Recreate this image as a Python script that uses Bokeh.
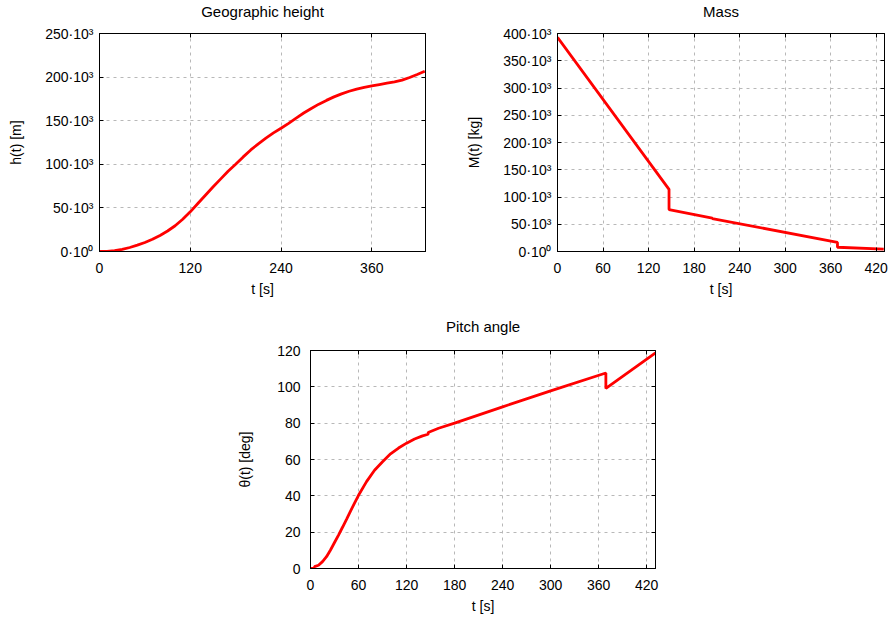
from bokeh.plotting import figure
from bokeh.models import Range1d, FixedTicker, LinearAxis, Spacer, CustomJSTickFormatter
from bokeh.layouts import column, row
from bokeh.embed import file_html
from bokeh.resources import INLINE

# ---------------- data ----------------
# Geographic height
t_height = [0, 10, 20, 30, 40, 50, 60, 70, 80, 90, 100, 110, 120, 130, 140, 150,
            160, 170, 180, 190, 200, 210, 220, 230, 240, 250, 260, 270, 280, 290,
            300, 310, 320, 330, 340, 350, 360, 370, 380, 390, 400, 410, 420, 430]
h_values = [0, 250, 900, 2400, 4600, 7300, 10300, 14000, 18400, 23500, 29500, 37000,
            45500, 55000, 64500, 74000, 83000, 92000, 100000, 108500, 116500, 123500,
            130000, 136000, 141400, 147000, 153000, 158800, 164000, 169000, 173300,
            177300, 180800, 183800, 186300, 188300, 190000, 191500, 193000, 194500,
            196500, 199500, 203000, 206700]

# Mass
t_mass = [0, 147, 147, 204, 204, 369, 369, 430]
m_values = [393000, 114000, 77000, 61300, 60500, 16600, 7800, 4500]

# Pitch angle
t_pitch = [0, 5, 5, 10, 15, 20, 25, 30, 35, 40, 45, 50, 55, 60, 70, 80, 90, 100,
           110, 120, 130, 140, 147, 147, 160, 180, 240, 300, 369, 369, 431]
pitch_values = [0, 0, 1.0, 1.8, 3.8, 6.5, 10.2, 14.3, 18.4, 22.7, 27.1, 31.6, 36.0,
                40.3, 47.8, 54.1, 58.8, 63.1, 66.3, 69.0, 71.3, 73.0, 73.9, 74.9,
                77.2, 80.0, 89.0, 97.8, 107.6, 99.1, 118.7]

# ticks
x_ticks_height = [0, 120, 240, 360]
x_ticks_60 = [0, 60, 120, 180, 240, 300, 360, 420]
y_ticks_height = [0, 50000, 100000, 150000, 200000, 250000]
y_labels_height = ["0·10⁰", "50·10³", "100·10³", "150·10³", "200·10³", "250·10³"]
y_ticks_mass = [0, 50000, 100000, 150000, 200000, 250000, 300000, 350000, 400000]
y_labels_mass = ["0·10⁰", "50·10³", "100·10³", "150·10³", "200·10³", "250·10³",
                 "300·10³", "350·10³", "400·10³"]
y_ticks_pitch = [0, 20, 40, 60, 80, 100, 120]

FONT = "Liberation Sans"
FS = "14px"
RED = "#ff0000"
GRID = "#b8b8b8"


def style_axis(ax, ticks, standoff):
    ax.ticker = FixedTicker(ticks=ticks)
    ax.major_tick_in = 4
    ax.major_tick_out = 0
    ax.minor_tick_line_color = None
    ax.axis_line_color = "black"
    ax.major_tick_line_color = "black"
    ax.major_label_text_font = FONT
    ax.major_label_text_font_size = FS
    ax.major_label_text_color = "black"
    ax.major_label_standoff = standoff
    ax.axis_label_text_font = FONT
    ax.axis_label_text_font_size = FS
    ax.axis_label_text_font_style = "normal"
    ax.axis_label_text_color = "black"


def mirror_axis(p, ticks, side):
    ax = LinearAxis(ticker=FixedTicker(ticks=ticks),
                    formatter=CustomJSTickFormatter(code="return ''"))
    ax.major_tick_in = 4
    ax.major_tick_out = 0
    ax.minor_tick_line_color = None
    ax.axis_line_color = "black"
    ax.major_tick_line_color = "black"
    ax.major_label_standoff = 0
    p.add_layout(ax, side)


def make_fig(title, width, height, bl, br, bt, bb, xmax, ymax, xticks, yticks,
             ylabel, ytick_standoff, ylab_standoff, ylabels, title_standoff, top_margin):
    p = figure(width=width, height=height, output_backend="svg", toolbar_location=None,
               x_range=Range1d(0, xmax), y_range=Range1d(0, ymax),
               min_border_left=bl, min_border_right=br, min_border_top=bt,
               min_border_bottom=bb, margin=(top_margin, 0, 0, 0))
    p.title.text = title
    p.title.align = "center"
    p.title.text_font = FONT
    p.title.text_font_size = "15px"
    p.title.text_font_style = "normal"
    p.title.text_color = "black"
    p.title.standoff = title_standoff
    p.outline_line_color = "black"
    p.outline_line_alpha = 1
    p.background_fill_color = "white"
    p.border_fill_color = None
    style_axis(p.xaxis[0], xticks, 11)
    style_axis(p.yaxis[0], yticks, ytick_standoff)
    p.xaxis[0].axis_label = "t [s]"
    p.xaxis[0].axis_label_standoff = 5
    p.yaxis[0].axis_label = ylabel
    p.yaxis[0].axis_label_standoff = ylab_standoff
    if ylabels is not None:
        p.yaxis[0].major_label_overrides = {k: v for k, v in zip(yticks, ylabels)}
    mirror_axis(p, xticks, "above")
    mirror_axis(p, yticks, "right")
    for g in (p.xgrid[0], p.ygrid[0]):
        g.grid_line_color = GRID
        g.grid_line_dash = "3 4"
        g.grid_line_width = 1
    return p


p1 = make_fig("Geographic height", 445, 323, 99, 20, 46, 59, 431, 250000,
              x_ticks_height, y_ticks_height, "h(t) [m]", 6, 18, y_labels_height, 27, -13)
p1.line(t_height, h_values, line_color=RED, line_width=2.8)

p2 = make_fig("Mass", 444, 323, 112, 5, 46, 59, 431, 400000,
              x_ticks_60, y_ticks_mass, "M(t) [kg]", 6, 18, y_labels_mass, 27, -13)
p2.line(t_mass, m_values, line_color=RED, line_width=2.8)

p3 = make_fig("Pitch angle", 475, 323, 110, 20, 50, 55, 431, 120,
              x_ticks_60, y_ticks_pitch, "θ(t) [deg]", 10, 21, None, 31, -10)
p3.line(t_pitch, pitch_values, line_color=RED, line_width=2.8)

layout = column(row(p1, p2), row(Spacer(width=200, height=313), p3))

open("out.html", "w").write(file_html(layout, INLINE))
